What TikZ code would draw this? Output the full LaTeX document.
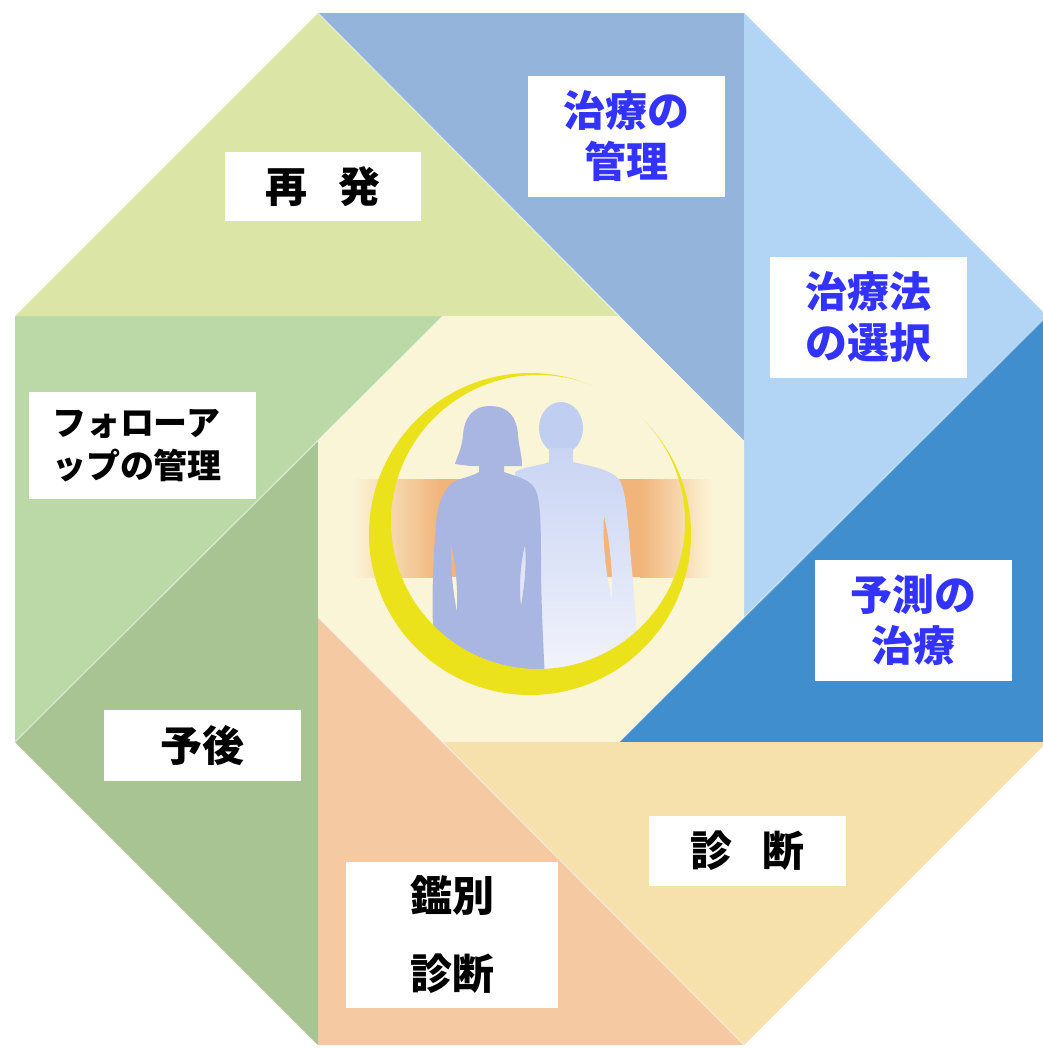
\documentclass[tikz,border=0pt]{standalone}
\usepackage{fontspec}
\newfontfamily\jp{Noto Sans CJK JP}
% sector fills
\definecolor{secRelapse}{RGB}{219,230,166}
\definecolor{secMgmt}{RGB}{148,180,220}
\definecolor{secChoice}{RGB}{178,212,245}
\definecolor{secPred}{RGB}{64,142,205}
\definecolor{secDiag}{RGB}{246,224,172}
\definecolor{secDiff}{RGB}{245,202,163}
\definecolor{secProg}{RGB}{168,196,147}
\definecolor{secFollow}{RGB}{186,217,167}
% centre emblem
\definecolor{core}{RGB}{251,245,216}
\definecolor{bandorange}{RGB}{241,180,122}
\definecolor{ringyellow}{RGB}{236,226,28}
\definecolor{womanblue}{RGB}{168,182,225}
\definecolor{manblue}{RGB}{192,206,241}
\definecolor{manwhite}{RGB}{247,247,253}
\definecolor{labelblue}{RGB}{51,51,255}
\begin{document}
\begin{tikzpicture}[x=1pt,y=-1pt,
  lbl/.style={fill=white, inner sep=0pt, align=center, text=black,
    font=\jp\bfseries\fontsize{42}{51}\selectfont},
  bluelbl/.style={lbl, text=labelblue},
  seam/.style={white, opacity=0.35, line width=1.5pt}]
\useasboundingbox (0,0) rectangle (1043,1050);
\clip (0,0) rectangle (1043,1050);

% outer octagon corners
\coordinate (A1) at (318,13);
\coordinate (A2) at (744,13);
\coordinate (A3) at (1047,316);
\coordinate (A4) at (1047,742);
\coordinate (A5) at (744,1045);
\coordinate (A6) at (318,1045);
\coordinate (A7) at (15,742);
\coordinate (A8) at (15,316);
% inner octagon corners
\coordinate (B1) at (443,316);
\coordinate (B2) at (619,316);
\coordinate (B3) at (744,441);
\coordinate (B4) at (744,617);
\coordinate (B5) at (619,742);
\coordinate (B6) at (443,742);
\coordinate (B7) at (318,617);
\coordinate (B8) at (318,441);

% pinwheel of right triangles
\fill[secMgmt]   (A1) -- (A2) -- (B3) -- cycle;
\fill[secChoice] (A2) -- (A3) -- (B4) -- cycle;
\fill[secPred]   (A3) -- (A4) -- (B5) -- cycle;
\fill[secDiag]   (A4) -- (A5) -- (B6) -- cycle;
\fill[secDiff]   (A5) -- (A6) -- (B7) -- cycle;
\fill[secProg]   (A6) -- (A7) -- (B8) -- cycle;
\fill[secFollow] (A7) -- (A8) -- (B1) -- cycle;
\fill[secRelapse](A8) -- (A1) -- (B2) -- cycle;
\draw[seam] (A1) -- (B2);
\draw[seam] (A3) -- (B5);
\draw[seam] (A5) -- (B7);
\draw[seam] (A7) -- (B1);

% inner octagon
\fill[core] (B1) -- (B2) -- (B3) -- (B4) -- (B5) -- (B6) -- (B7) -- (B8) -- cycle;

% horizontal band behind the figures
\shade[left color=core, right color=bandorange] (352,479) rectangle (441,577);
\fill[bandorange] (440,479) rectangle (641,577);
\shade[left color=bandorange, right color=core] (640,479) rectangle (712,577);

% two figures, kept inside the ring
\begin{scope}
\clip (530,534) circle[radius=160];
% man (behind)
\fill[manblue] (561,428) ellipse[x radius=22, y radius=26];
\shade[top color=manblue!85!manwhite, bottom color=manwhite, even odd rule]
  (549,448) -- (549,462)
  .. controls (540,466) and (525,466) .. (515,472)
  -- (515,700) -- (640,700)
  .. controls (638,650) and (635,600) .. (631,560)
  .. controls (628,520) and (626,492) .. (620,481)
  .. controls (614,470) and (590,466) .. (573,462)
  -- (573,448) -- cycle
  (604,516) .. controls (610,540) and (613,575) .. (612,600)
  .. controls (606,575) and (602,540) .. (604,516) -- cycle;
% woman (front)
\fill[womanblue, even odd rule]
  (490,406)
  .. controls (471,406) and (464,420) .. (463,435)
  .. controls (462,448) and (457,457) .. (455,464)
  -- (470,466) -- (479,466) -- (479,472)
  .. controls (470,478) and (455,478) .. (449,486)
  .. controls (440,496) and (437,510) .. (436,525)
  .. controls (433,560) and (431,610) .. (434,640)
  -- (438,700) -- (546,700)
  .. controls (543,640) and (541,600) .. (541,560)
  .. controls (541,520) and (540,497) .. (535,489)
  .. controls (530,479) and (515,476) .. (504,472)
  -- (504,466) -- (522,466)
  .. controls (522,455) and (519,448) .. (518,435)
  .. controls (517,418) and (509,406) .. (490,406) -- cycle
  (451,542) .. controls (456,565) and (458,592) .. (457,612)
  .. controls (453,592) and (450,565) .. (451,542) -- cycle
  (525,545) .. controls (520,565) and (519,588) .. (521,606)
  .. controls (524,588) and (527,565) .. (525,545) -- cycle;
\end{scope}

% crescent ring: outer disc with the offset inner disc cut away
\begin{scope}[even odd rule]
\clip (0,0) rectangle (1043,1050) (538,522) circle[radius=147];
\fill[ringyellow] (530,534) circle[radius=161];
\end{scope}

% labels
\node[lbl, minimum width=196, minimum height=69] (relapse) at (323,186.5) {再\hspace{0.73em}発};
\node[bluelbl, minimum width=197, minimum height=121] (mgmt) at (626.5,136.5) {治療の\\管理};
\node[bluelbl, minimum width=197, minimum height=121] (choice) at (868.5,317.5) {治療法\\の選択};
\node[bluelbl, minimum width=197, minimum height=121] (pred) at (913.5,620.5) {予測の\\治療};
\node[lbl, minimum width=197, minimum height=70] (diag) at (747.5,851) {診\hspace{0.7em}断};
\node[lbl, minimum width=212, minimum height=146, font=\jp\bfseries\fontsize{42}{78}\selectfont] (diff) at (452,934.5) {鑑別\\診断};
\node[lbl, minimum width=197, minimum height=71] (prog) at (202.5,745.5) {予後};
\node[lbl, align=left, text width=181pt, inner xsep=23pt, inner ysep=0pt, minimum height=107,
  font=\jp\bfseries\fontsize{34}{43}\selectfont] (follow) at (142.5,445.5) {フォローア\\ップの管理};
\end{tikzpicture}
\end{document}
